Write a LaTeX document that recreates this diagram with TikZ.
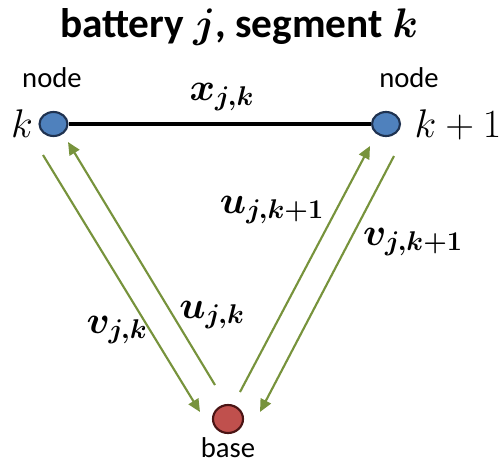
\RequirePackage{fix-cm}
\documentclass[tikz,border=0pt]{standalone}
\usepackage{amsmath,amssymb,bm}
\usepackage{fontspec}
\newfontfamily\carlito{Carlito}
\usetikzlibrary{arrows.meta,shapes.geometric}
\definecolor{nodeblue}{HTML}{4F81BD}
\definecolor{nodeedge}{HTML}{1F3250}
\definecolor{basered}{HTML}{C0504D}
\definecolor{baseedge}{HTML}{4A1414}
\definecolor{flowgreen}{HTML}{77933C}

\begin{document}
\begin{tikzpicture}[x=0.75pt,y=-0.75pt,
  blob/.style={ellipse,draw,line width=1.6pt,inner sep=0pt,minimum width=21pt,minimum height=18pt},
  mlabel/.style={font=\fontsize{29}{34}\selectfont,anchor=base},
  tlabel/.style={font=\carlito\fontsize{21.5}{25}\selectfont,anchor=base},
  flow/.style={flowgreen,line width=1.6pt,-{Triangle[length=9.5pt,width=8.5pt]}}]
  \useasboundingbox (0,0) rectangle (504,468);
  % title
  \node[font=\carlito\bfseries\fontsize{31}{36}\selectfont,anchor=base] (title) at (239,37) {battery $\bm{j}$, segment $\bm{k}$};
  % segment end nodes and base
  \node[blob,fill=nodeblue,draw=nodeedge] (nk) at (53.5,124) {};
  \node[blob,fill=nodeblue,draw=nodeedge] (nk1) at (386,124) {};
  \node[blob,fill=basered,draw=baseedge,minimum width=22.5pt,minimum height=21pt] (base) at (228,419) {};
  \node[tlabel] (nklbl) at (52,87) {node};
  \node[tlabel] (nk1lbl) at (409,87) {node};
  \node[tlabel] (baselbl) at (228,457) {base};
  \node[mlabel,font=\fontsize{30}{34}\selectfont] (klbl) at (22,137) {$k$};
  \node[mlabel,font=\fontsize{30}{34}\selectfont] (k1lbl) at (458,137) {$k+1$};
  % segment
  \draw[line width=2.4pt] (nk) -- (nk1) node[mlabel,midway,pos=0.507,yshift=18pt] (xlbl) {$\bm{x_{j,k}}$};
  % flows to and from the base
  \coordinate (vks) at (43,155);  \coordinate (vke) at (200,412);
  \coordinate (uks) at (215,385); \coordinate (uke) at (68,142);
  \coordinate (uk1s) at (240,392); \coordinate (uk1e) at (370,146);
  \coordinate (vk1s) at (394,156); \coordinate (vk1e) at (260,412);
  \draw[flow] (vks) -- (vke);
  \draw[flow] (uks) -- (uke);
  \draw[flow] (uk1s) -- (uk1e);
  \draw[flow] (vk1s) -- (vk1e);
  \node[mlabel] (vklbl) at (117,333) {$\bm{v_{j,k}}$};
  \node[mlabel] (uklbl) at (212,318) {$\bm{u_{j,k}}$};
  \node[mlabel] (uk1lbl) at (272,213) {$\bm{u_{j,k+1}}$};
  \node[mlabel] (vk1lbl) at (413,245) {$\bm{v_{j,k+1}}$};
\end{tikzpicture}
\end{document}
